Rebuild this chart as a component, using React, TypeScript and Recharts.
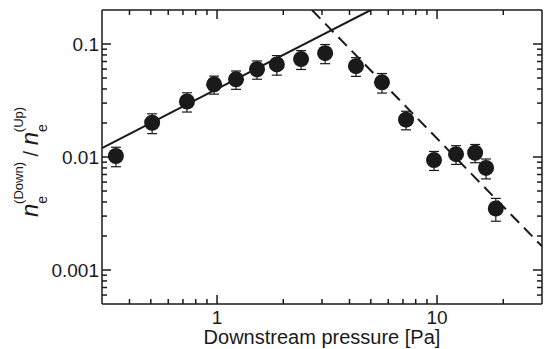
import React from 'react'
import { ComposedChart, XAxis, YAxis, Scatter, Line, ErrorBar } from 'recharts'

// measured points: downstream pressure [Pa] vs density ratio
const pressure = [0.347, 0.507, 0.73, 0.97, 1.22, 1.52, 1.87, 2.41, 3.1, 4.28, 5.62, 7.23, 9.69, 12.2, 14.9, 16.7, 18.5]
const ratio = [0.0102, 0.0201, 0.031, 0.044, 0.0487, 0.0598, 0.066, 0.0735, 0.083, 0.0637, 0.0458, 0.0214, 0.0094, 0.0106, 0.0109, 0.008, 0.0035]
const ratioErr = [0.002, 0.004, 0.006, 0.008, 0.009, 0.011, 0.013, 0.014, 0.016, 0.012, 0.009, 0.004, 0.0018, 0.002, 0.002, 0.0016, 0.0008]

// fit lines (end points)
const lowFitX = [0.3, 5]
const lowFitY = [0.012, 0.2]
const highFitX = [2.7, 30]
const highFitY = [0.2, 0.00162]

const xTicks = [0.4, 0.5, 0.6, 0.7, 0.8, 0.9, 1, 2, 3, 4, 5, 6, 7, 8, 9, 10, 20]
const xMajor = [1, 10]
const yTicks = [0.0006, 0.0007, 0.0008, 0.0009, 0.001, 0.002, 0.003, 0.004, 0.005, 0.006, 0.007, 0.008, 0.009, 0.01, 0.02, 0.03, 0.04, 0.05, 0.06, 0.07, 0.08, 0.09, 0.1]
const yMajor = [0.001, 0.01, 0.1]

const points = pressure.map((p, i) => ({ x: p, y: ratio[i], err: ratioErr[i] }))
const lowFit = lowFitX.map((x, i) => ({ x, y: lowFitY[i] }))
const highFit = highFitX.map((x, i) => ({ x, y: highFitY[i] }))

const FONT = 'Liberation Sans, Arial, Helvetica, sans-serif'
const INK = '#1a1a1a'

function AxisTick(props: any) {
  const { x, y, payload, side, majors } = props
  const major = majors.includes(payload.value)
  const len = major ? 9 : 5
  let x2 = x
  let y2 = y
  if (side === 'bottom') y2 = y - len
  if (side === 'top') y2 = y + len
  if (side === 'left') x2 = x + len
  if (side === 'right') x2 = x - len
  return (
    <g>
      <line x1={x} y1={y} x2={x2} y2={y2} stroke={INK} strokeWidth={1.5} />
      {major && side === 'bottom' && (
        <text x={x} y={y + 20} textAnchor="middle" fontSize={19} fontFamily={FONT} fill={INK}>
          {String(payload.value)}
        </text>
      )}
      {major && side === 'left' && (
        <text x={x - 3} y={y + 7} textAnchor="end" fontSize={19} fontFamily={FONT} fill={INK}>
          {String(payload.value)}
        </text>
      )}
    </g>
  )
}

function YLabel() {
  return (
    <text transform="translate(38,162) rotate(-90)" textAnchor="middle" fontFamily={FONT} fill={INK}>
      <tspan fontSize={24} fontStyle="italic">n</tspan>
      <tspan fontSize={14} dy={9}>e</tspan>
      <tspan fontSize={13} dx={-8} dy={-24}>(Down)</tspan>
      <tspan fontSize={20} dy={15}> / </tspan>
      <tspan fontSize={24} fontStyle="italic">n</tspan>
      <tspan fontSize={14} dy={9}>e</tspan>
      <tspan fontSize={13} dx={-8} dy={-24}>(Up)</tspan>
    </text>
  )
}

function XLabel() {
  return (
    <text x={322} y={344} textAnchor="middle" fontSize={20} fontFamily={FONT} fill={INK}>
      Downstream pressure [Pa]
    </text>
  )
}

export default function App() {
  return (
    <div style={{ position: 'absolute', left: 0, top: 0, background: '#fff' }}>
      <ComposedChart width={547} height={349} margin={{ top: 9, right: 4, bottom: 0, left: 0 }}>
        <XAxis
          xAxisId="b"
          dataKey="x"
          type="number"
          scale="log"
          domain={[0.3, 30]}
          allowDataOverflow
          ticks={xTicks}
          interval={0}
          height={45}
          tickSize={0}
          tickMargin={0}
          tickLine={false}
          axisLine={{ stroke: INK, strokeWidth: 1.5 }}
          tick={(p: any) => <AxisTick {...p} side="bottom" majors={xMajor} />}
          label={{ content: () => <XLabel /> }}
        />
        <XAxis
          xAxisId="t"
          dataKey="x"
          orientation="top"
          type="number"
          scale="log"
          domain={[0.3, 30]}
          allowDataOverflow
          ticks={xTicks}
          interval={0}
          height={1}
          tickSize={0}
          tickMargin={0}
          tickLine={false}
          axisLine={{ stroke: INK, strokeWidth: 1.5 }}
          tick={(p: any) => <AxisTick {...p} side="top" majors={xMajor} />}
        />
        <YAxis
          yAxisId="l"
          dataKey="y"
          type="number"
          scale="log"
          domain={[0.0005, 0.2]}
          allowDataOverflow
          ticks={yTicks}
          interval={0}
          width={102}
          tickSize={0}
          tickMargin={0}
          tickLine={false}
          axisLine={{ stroke: INK, strokeWidth: 1.5 }}
          tick={(p: any) => <AxisTick {...p} side="left" majors={yMajor} />}
          label={{ content: () => <YLabel /> }}
        />
        <YAxis
          yAxisId="r"
          dataKey="y"
          orientation="right"
          type="number"
          scale="log"
          domain={[0.0005, 0.2]}
          allowDataOverflow
          ticks={yTicks}
          interval={0}
          width={1}
          tickSize={0}
          tickMargin={0}
          tickLine={false}
          axisLine={{ stroke: INK, strokeWidth: 1.5 }}
          tick={(p: any) => <AxisTick {...p} side="right" majors={yMajor} />}
        />
        {/* invisible series so the mirrored frame axes get drawn */}
        <Line
          xAxisId="t"
          yAxisId="r"
          data={lowFit}
          dataKey="y"
          stroke="none"
          dot={false}
          activeDot={false}
          isAnimationActive={false}
        />
        <Line
          xAxisId="b"
          yAxisId="l"
          data={lowFit}
          dataKey="y"
          type="linear"
          stroke={INK}
          strokeWidth={2}
          dot={false}
          activeDot={false}
          isAnimationActive={false}
        />
        <Line
          xAxisId="b"
          yAxisId="l"
          data={highFit}
          dataKey="y"
          type="linear"
          stroke={INK}
          strokeWidth={2}
          strokeDasharray="12 7"
          dot={false}
          activeDot={false}
          isAnimationActive={false}
        />
        <Scatter
          xAxisId="b"
          yAxisId="l"
          data={points}
          dataKey="y"
          fill={INK}
          isAnimationActive={false}
          shape={(p: any) => <circle cx={p.cx} cy={p.cy} r={8} fill={INK} />}
        >
          <ErrorBar dataKey="err" direction="y" width={5} stroke={INK} strokeWidth={1.2} />
        </Scatter>
      </ComposedChart>
    </div>
  )
}
